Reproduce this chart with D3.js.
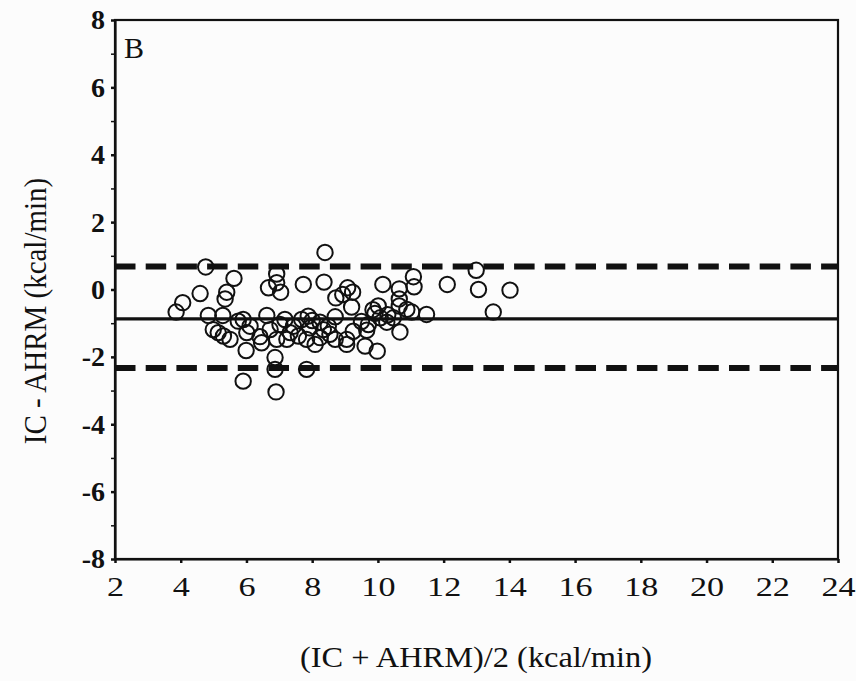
<!DOCTYPE html>
<html lang="en">

<head>
  <meta charset="utf-8">
  <title>Bland-Altman IC vs AHRM</title>
  <script type="text/javascript" src="https://cdn.jsdelivr.net/npm/d3@7"></script>
  <style>
    body { margin: 0; background: #fcfcfc; }
    text { font-family: "Liberation Serif", "Times New Roman", serif; fill: #111; }
  </style>
</head>

<body>
  <div class="chart"></div>

  <script type="text/javascript">
    var w = 856,
      h = 681;

    // mean of the two methods (kcal/min)
    var meanVals = [8.39, 4.76, 12.99, 5.62, 6.92, 4.59, 4.06, 3.86, 5.40, 5.35,
      6.67, 6.92, 7.04, 7.73, 8.36, 8.72, 8.93, 9.08, 9.23, 9.20,
      10.15, 10.65, 10.65, 11.08, 11.10, 12.11, 13.06, 14.02, 13.51, 11.48,
      10.88, 10.65, 10.01, 9.91, 10.07, 10.27, 10.67, 9.66, 9.25, 9.05,
      9.61, 9.98, 8.70, 8.54, 8.34, 8.09, 7.88, 7.68, 7.58, 7.33,
      7.17, 6.92, 6.87, 6.87, 6.90, 5.90, 7.83, 6.62, 6.46, 5.99,
      6.01, 5.90, 5.75, 5.50, 5.30, 5.14, 4.99, 5.28, 4.84, 6.11,
      7.43, 7.93, 8.24, 8.49, 8.70, 9.71, 10.47, 11.03, 9.05, 6.72,
      7.02, 8.24, 7.83, 7.23, 6.41, 8.00, 9.85, 9.50, 10.30];
    // difference IC - AHRM (kcal/min)
    var diffVals = [1.10, 0.67, 0.57, 0.33, 0.46, -0.12, -0.39, -0.67, -0.08, -0.28,
      0.05, 0.20, -0.08, 0.15, 0.22, -0.25, -0.15, 0.05, -0.08, -0.52,
      0.15, 0.02, -0.28, 0.38, 0.08, 0.15, 0.00, -0.02, -0.67, -0.74,
      -0.59, -0.49, -0.49, -0.71, -0.84, -0.97, -1.26, -1.21, -1.24, -1.63,
      -1.68, -1.83, -0.81, -1.33, -1.19, -1.63, -0.79, -0.89, -1.38, -1.28,
      -0.89, -1.48, -2.02, -2.37, -3.04, -2.72, -2.37, -0.77, -1.58, -1.81,
      -1.28, -0.89, -0.94, -1.48, -1.38, -1.28, -1.19, -0.77, -0.77, -1.09,
      -1.09, -1.14, -0.97, -1.09, -1.48, -1.04, -0.84, -0.67, -1.48, -1.19,
      -1.04, -1.43, -1.48, -1.48, -1.40, -0.92, -0.60, -0.95, -0.75];

    var meanDiff = -0.87;
    var limits = [0.68, -2.33];

    var xTicks = d3.range(2, 25, 2);
    var yTicks = d3.range(-8, 9, 2);
    var yMinor = d3.range(-7, 8, 2);

    // plot box (note: "top" is reserved on window)
    var mLeft = 115, mRight = 838, mTop = 20, mBottom = 559;

    var svg = d3.select('.chart')
      .append('svg')
      .attr('width', w)
      .attr('height', h);

    var x = d3.scaleLinear().domain([2, 24]).range([mLeft, mRight]);
    var y = d3.scaleLinear().domain([-8, 8]).range([mBottom, mTop]);

    // frame
    svg.append('rect')
      .attr('x', mLeft).attr('y', mTop)
      .attr('width', mRight - mLeft).attr('height', mBottom - mTop)
      .attr('fill', 'none').attr('stroke', '#111').attr('stroke-width', 2.2);

    // x axis
    var gx = svg.append('g')
      .attr('transform', 'translate(0,' + mBottom + ')')
      .call(d3.axisBottom(x).tickValues(xTicks).tickSize(4).tickSizeOuter(0).tickPadding(13));
    gx.select('.domain').attr('stroke', '#111').attr('stroke-width', 2.2);
    gx.selectAll('.tick line').attr('stroke', '#111').attr('stroke-width', 2.5);
    gx.selectAll('.tick text')
      .style('font-size', '28px')
      .attr('transform', 'scale(1.22,1)')
      .attr('fill', '#111');

    // y axis, plain hyphen for negatives
    var gy = svg.append('g')
      .attr('transform', 'translate(' + mLeft + ',0)')
      .call(d3.axisLeft(y).tickValues(yTicks).tickSize(4).tickSizeOuter(0).tickPadding(6)
        .tickFormat(function(d) { return String(d); }));
    gy.select('.domain').attr('stroke', '#111').attr('stroke-width', 2.2);
    gy.selectAll('.tick line').attr('stroke', '#111').attr('stroke-width', 2.5);
    gy.selectAll('.tick text')
      .style('font-size', '28px')
      .style('font-weight', 'bold')
      .attr('fill', '#111');

    // minor ticks on y
    svg.append('g')
      .attr('transform', 'translate(' + mLeft + ',0)')
      .call(d3.axisLeft(y).tickValues(yMinor).tickSize(4).tickFormat(''))
      .call(function(g) { g.select('.domain').remove(); })
      .selectAll('.tick line').attr('stroke', '#111').attr('stroke-width', 1.5);

    // mean line and limits of agreement
    svg.append('line')
      .attr('x1', x(2)).attr('x2', x(24))
      .attr('y1', y(meanDiff)).attr('y2', y(meanDiff))
      .attr('stroke', '#111').attr('stroke-width', 3.2);

    svg.selectAll('line.loa')
      .data(limits)
      .enter()
      .append('line')
      .attr('class', 'loa')
      .attr('x1', x(2)).attr('x2', x(24))
      .attr('y1', function(d) { return y(d); })
      .attr('y2', function(d) { return y(d); })
      .attr('stroke', '#111')
      .attr('stroke-width', 6)
      .attr('stroke-dasharray', '20.5,10.2');

    // points
    svg.selectAll('circle')
      .data(d3.zip(meanVals, diffVals))
      .enter()
      .append('circle')
      .attr('cx', function(d) { return x(d[0]); })
      .attr('cy', function(d) { return y(d[1]); })
      .attr('r', 7.7)
      .attr('fill', 'none')
      .attr('stroke', '#111')
      .attr('stroke-width', 2);

    // panel letter
    svg.append('text')
      .attr('x', 124).attr('y', 58)
      .style('font-size', '30px')
      .text('B');

    // axis titles
    svg.append('text')
      .attr('transform', 'translate(476,667) scale(1.08,1)')
      .attr('text-anchor', 'middle')
      .style('font-size', '30px')
      .text('(IC + AHRM)/2 (kcal/min)');

    svg.append('text')
      .attr('transform', 'translate(46,311) rotate(-90) scale(1,1.12)')
      .attr('text-anchor', 'middle')
      .style('font-size', '29px')
      .text('IC - AHRM (kcal/min)');
  </script>

</body>

</html>
